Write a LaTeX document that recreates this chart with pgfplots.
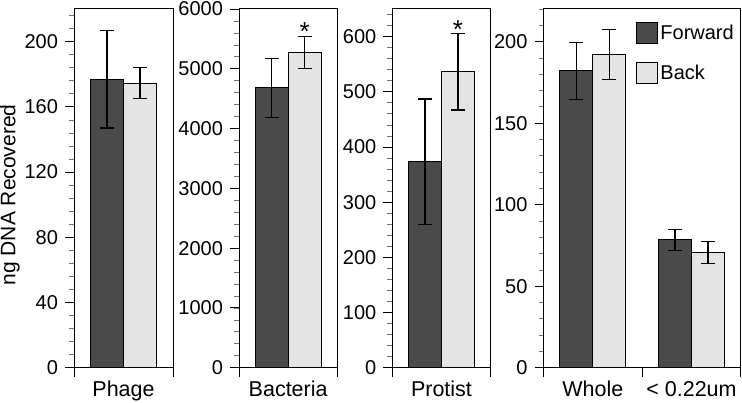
\documentclass[border=0pt]{standalone}
\usepackage{fontspec}
\setmainfont{Liberation Sans}
\usepackage{pgfplots}
\pgfplotsset{compat=1.18}
\definecolor{fwd}{HTML}{4A4A4A}
\definecolor{bck}{HTML}{E4E4E4}
\pgfplotsset{
  panel/.style={
    scale only axis, anchor=south west, height=358.7pt,
    xmin=0, xmax=1, ymin=0,
    axis line style={line width=1pt},
    tick align=outside, xtick pos=bottom, ytick pos=left,
    major tick length=9pt, minor tick length=5pt,
    every tick/.style={black, line width=0.9pt},
    every minor tick/.style={black!55, line width=0.7pt},
    xtick={0,1}, xticklabels={},
    yticklabel style={font=\fontsize{20}{22}\selectfont, xshift=-3.5pt},
    /pgf/number format/assume math mode=true,
    /pgf/number format/1000 sep={},
    ybar=0pt, bar width=33pt,
    extra x tick style={major tick length=0pt, xticklabel style={font=\fontsize{21.5}{24}\selectfont, yshift=-10pt}},
    legend image code/.code={\draw[##1] (0pt,-10.5pt) rectangle (21pt,10.5pt);},
  },
  fb/.style={fill=fwd, draw=black, line width=1pt,
    error bars/y dir=both, error bars/y explicit,
    error bars/error bar style={line width=1.2pt, black},
    error bars/error mark options={rotate=90, line width=1.2pt, mark size=7pt, black}},
  bb/.style={fill=bck, draw=black, line width=1pt,
    error bars/y dir=both, error bars/y explicit,
    error bars/error bar style={line width=1.2pt, black},
    error bars/error mark options={rotate=90, line width=1.2pt, mark size=7pt, black}},
}
\begin{document}
\begin{tikzpicture}
\path[use as bounding box] (0pt,0pt) rectangle (742pt,403pt);

\begin{axis}[panel, at={(74pt,35.3pt)}, width=99pt, ymax=220,
  ytick={0,40,...,200}, minor ytick={8,16,...,216},
  extra x ticks={0.5}, extra x tick labels={Phage}]
\addplot[fb] coordinates {(0.5,177) +- (0,30)};
\addplot[bb] coordinates {(0.5,174.6) +- (0,9.7)};
\end{axis}

\begin{axis}[panel, at={(239pt,35.3pt)}, width=98.3pt, ymax=6000,
  ytick={0,1000,...,6000}, minor ytick={200,400,...,5800},
  extra x ticks={0.5}, extra x tick labels={Bacteria}]
\addplot[fb] coordinates {(0.5,4680) +- (0,495)};
\addplot[bb] coordinates {(0.5,5270) +- (0,268)};
\node[font=\fontsize{26}{28}\selectfont, xshift=16.5pt, anchor=base, inner sep=0pt] at (axis cs:0.5,5480) {*};
\end{axis}

\begin{axis}[panel, at={(392.3pt,35.3pt)}, width=98.4pt, ymax=650,
  ytick={0,100,...,600}, minor ytick={20,40,...,640},
  extra x ticks={0.5}, extra x tick labels={Protist}]
\addplot[fb] coordinates {(0.5,373) +- (0,114)};
\addplot[bb] coordinates {(0.5,536) +- (0,69)};
\node[font=\fontsize{26}{28}\selectfont, xshift=16.5pt, anchor=base, inner sep=0pt] at (axis cs:0.5,596) {*};
\end{axis}

\begin{axis}[panel, at={(543.5pt,35.3pt)}, width=197.3pt, ymax=220,
  xmax=2, xtick={0,1,2},
  ytick={0,50,...,200}, minor ytick={10,20,...,220},
  extra x ticks={0.5,1.5}, extra x tick labels={Whole,{< 0.22um}},
  legend style={draw=none, fill=none, at={(rel axis cs:0.47,0.965)}, anchor=north west,
    font=\fontsize{20}{24}\selectfont, row sep=18pt, inner sep=0pt,
    /tikz/every even column/.append style={column sep=0pt}},
  legend cell align=left]
\addplot[fb] coordinates {(0.5,182) +- (0,17.4) (1.5,78.4) +- (0,6.3)};
\addplot[bb] coordinates {(0.5,192.2) +- (0,15.3) (1.5,70.5) +- (0,6.7)};
\legend{Forward,Back}
\end{axis}

\node[rotate=90, font=\fontsize{21}{24}\selectfont] at (10pt,208pt) {ng DNA Recovered};
\end{tikzpicture}
\end{document}
